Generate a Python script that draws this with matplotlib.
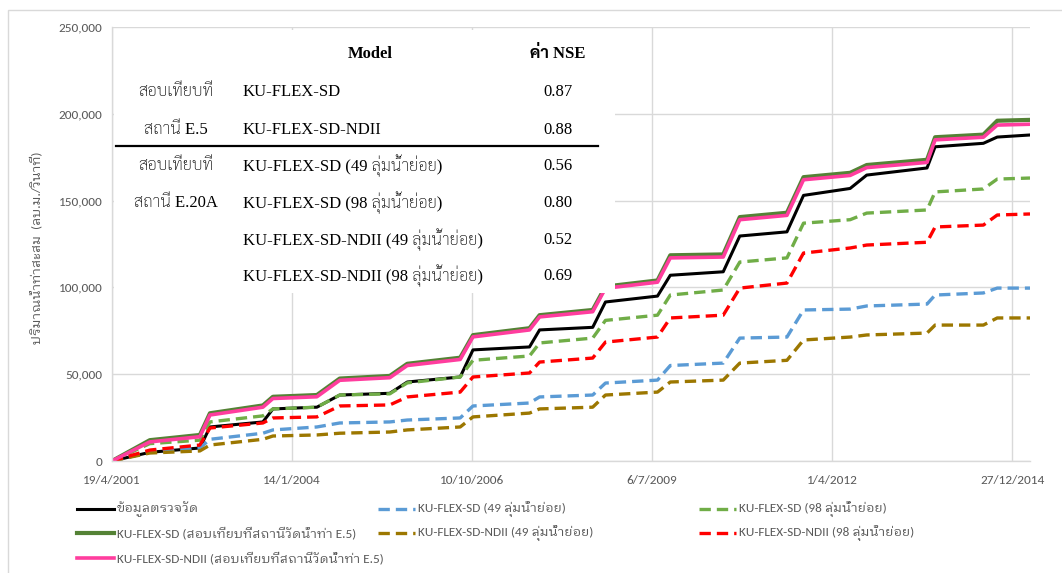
import matplotlib
matplotlib.use("Agg")
import matplotlib.pyplot as plt
from matplotlib import font_manager
from matplotlib.lines import Line2D
from matplotlib.patches import Rectangle
import pandas as pd

# ---------------------------------------------------------------- data
dates = [
    "2001-04-19", "2001-11-15", "2002-08-20", "2002-10-15", "2003-08-05",
    "2003-09-30", "2004-05-31", "2004-10-05", "2005-07-10", "2005-10-15",
    "2006-08-05", "2006-10-15", "2007-08-25", "2007-10-20", "2008-08-10",
    "2008-10-20", "2009-08-05", "2009-10-15", "2010-08-05", "2010-11-05",
    "2011-07-25", "2011-10-25", "2012-07-10", "2012-10-10", "2013-09-10",
    "2013-10-25", "2014-07-20", "2014-10-05", "2015-04-05",
]

observed = [0, 5000, 7500, 19600, 22500, 30000, 31000, 38000, 39000, 45500,
            48400, 64000, 65700, 75500, 77000, 91600, 95000, 107000, 109000,
            129600, 132000, 153000, 157000, 164700, 168800, 181000, 183000,
            186600, 187800]
sd_49 = [0, 5200, 7500, 12500, 16000, 17900, 19600, 21900, 22500, 23600,
         24800, 31700, 33400, 36900, 38000, 44900, 46600, 55000, 56400, 70800,
         71400, 87000, 87500, 89300, 90400, 95600, 96800, 99600, 99600]
sd_98 = [0, 10000, 12000, 22500, 26000, 30000, 31000, 38000, 38700, 45000,
         48400, 58000, 60500, 68000, 70800, 81000, 84000, 95600, 98500, 114600,
         117000, 137000, 139000, 142800, 144600, 155000, 156700, 162400, 163000]
sd_e5 = [0, 12000, 15000, 27500, 32000, 37000, 38000, 47500, 49000, 56000,
         59500, 72500, 76500, 84000, 87000, 100500, 104000, 118500, 119000,
         140500, 143000, 163500, 166000, 170500, 173500, 186500, 188000,
         196000, 196500]
ndii_49 = [0, 4600, 5800, 9200, 12500, 14400, 15000, 16000, 16700, 17900,
           19600, 25400, 27600, 30000, 31000, 38000, 39700, 45500, 46600,
           56400, 58000, 69700, 71400, 72600, 73700, 78300, 78300, 82400, 82400]
ndii_98 = [0, 6300, 9200, 19000, 21900, 24800, 25400, 31700, 32300, 36900,
           39700, 48400, 50700, 57000, 59300, 68500, 71400, 82400, 84000,
           99600, 102500, 119800, 122700, 124400, 126000, 134800, 135900,
           141700, 142300]
ndii_e5 = [0, 11000, 14000, 26500, 31000, 36000, 37000, 46500, 48000, 55000,
           58500, 71500, 75500, 83000, 86000, 99500, 103000, 117000, 117500,
           139000, 141500, 162000, 164500, 169000, 172000, 185000, 186500,
           193500, 194000]

series_labels = [
    "ข้อมูลตรวจวัด",
    "KU-FLEX-SD (49 ลุ่มน้ำย่อย)",
    "KU-FLEX-SD (98 ลุ่มน้ำย่อย)",
    "KU-FLEX-SD (สอบเทียบที่สถานีวัดน้ำท่า E.5)",
    "KU-FLEX-SD-NDII (49 ลุ่มน้ำย่อย)",
    "KU-FLEX-SD-NDII (98 ลุ่มน้ำย่อย)",
    "KU-FLEX-SD-NDII (สอบเทียบที่สถานีวัดน้ำท่า E.5)",
]

x_tick_dates = ["2001-04-19", "2004-01-14", "2006-10-10", "2009-07-06",
                "2012-04-01", "2014-12-27"]
x_tick_labels = ["19/4/2001", "14/1/2004", "10/10/2006", "6/7/2009",
                 "1/4/2012", "27/12/2014"]
y_ticks = [0, 50000, 100000, 150000, 200000, 250000]

table_groups = ["สอบเทียบที่\nสถานี E.5", "สอบเทียบที่\nสถานี E.20A"]
table_models = [
    "KU-FLEX-SD",
    "KU-FLEX-SD-NDII",
    "KU-FLEX-SD (49 ลุ่มน้ำย่อย)",
    "KU-FLEX-SD (98 ลุ่มน้ำย่อย)",
    "KU-FLEX-SD-NDII (49 ลุ่มน้ำย่อย)",
    "KU-FLEX-SD-NDII (98 ลุ่มน้ำย่อย)",
]
table_nse = [0.87, 0.88, 0.56, 0.80, 0.52, 0.69]

# ---------------------------------------------------------------- fonts
installed = {f.name for f in font_manager.fontManager.ttflist}


def pick(cands):
    return [c for c in cands if c in installed]


sans_fonts = (pick(["Carlito", "Lato", "Open Sans"])[:1]
              + pick(["IBM Plex Sans Thai Looped", "Noto Sans Thai Looped",
                      "Sarabun", "FreeSans"])[:1] + ["DejaVu Sans"])
serif_fonts = (pick(["Liberation Serif", "FreeSerif"])[:1]
               + pick(["Sarabun", "FreeSerif"])[:1] + ["DejaVu Serif"])
plt.rcParams["font.family"] = sans_fonts

GREY = "#595959"
GRID = "#d9d9d9"

# ---------------------------------------------------------------- figure
W, H = 1062, 573
fig = plt.figure(figsize=(W / 100, H / 100), dpi=100)


def fx(px):
    return px / W


def fy(py):
    return 1 - py / H


ax = fig.add_axes([fx(112), fy(461), fx(1030) - fx(112), fy(27) - fy(461)])

t = pd.to_datetime(dates)
dash = (0, (3.4, 1.8))
styles = [
    dict(color="black", lw=2.2, ls="-"),
    dict(color="#5B9BD5", lw=2.4, ls=dash),
    dict(color="#70AD47", lw=2.4, ls=dash),
    dict(color="#548235", lw=3.0, ls="-"),
    dict(color="#9C7700", lw=2.4, ls=dash),
    dict(color="#FF0000", lw=2.4, ls=dash),
    dict(color="#FF3D9E", lw=2.6, ls="-"),
]
all_series = [observed, sd_49, sd_98, sd_e5, ndii_49, ndii_98, ndii_e5]
for vals, st in zip(all_series, styles):
    ax.plot(t, vals, solid_joinstyle="round", dash_capstyle="butt", **st)

ax.set_xlim(t[0], t[-1])
ax.set_ylim(0, 250000)
ax.set_yticks(y_ticks)
ax.set_yticklabels([f"{v:,}" for v in y_ticks])
ax.set_xticks(pd.to_datetime(x_tick_dates))
ax.set_xticklabels(x_tick_labels)
ax.tick_params(length=0, colors=GREY, labelsize=9.5, pad=7)
ax.tick_params(axis="x", pad=10)
ax.grid(True, color=GRID, lw=1.0)
ax.set_axisbelow(True)
for side in ("top", "right"):
    ax.spines[side].set_visible(False)
for side in ("left", "bottom"):
    ax.spines[side].set_color(GRID)
    ax.spines[side].set_linewidth(1.0)

fig.text(fx(36), fy(248), "ปริมาณน้ำท่าสะสม  (ลบ.ม./วินาที)", rotation=90,
         ha="center", va="center", color=GREY, fontsize=9.5)

# chart frame
fig.add_artist(Rectangle((fx(8), fy(600)), fx(1100), fy(10) - fy(600),
                         transform=fig.transFigure, fill=False,
                         edgecolor=GRID, lw=1.0, zorder=0))

# ---------------------------------------------------------------- table
fig.add_artist(Rectangle((fx(114), fy(293)), fx(615) - fx(114),
                         fy(30) - fy(293), transform=fig.transFigure,
                         facecolor="white", edgecolor="none", zorder=2))
tkw = dict(family=serif_fonts, fontsize=12, color="black", zorder=3,
           va="center")
fig.text(fx(370), fy(54), "Model", ha="center", weight="bold", **tkw)
fig.text(fx(558), fy(54), "ค่า NSE", ha="center", weight="bold", **tkw)
row_y = [92, 130, 166, 203, 240, 276]
group_rows = [(0, 1), (2, 3)]
for label, (r0, r1) in zip(table_groups, group_rows):
    top, bottom = label.split("\n")
    fig.text(fx(176), fy(row_y[r0]), top, ha="center", weight="light", **tkw)
    fig.text(fx(176), fy(row_y[r1]), bottom, ha="center", weight="light",
             **tkw)
for y, m, v in zip(row_y, table_models, table_nse):
    fig.text(fx(243), fy(y), m, ha="left", weight="light", **tkw)
    fig.text(fx(558), fy(y), f"{v:.2f}", ha="center", **tkw)
fig.add_artist(Line2D([fx(116), fx(598)], [fy(146), fy(146)],
                      transform=fig.transFigure, color="black", lw=1.6,
                      zorder=3))

# ---------------------------------------------------------------- legend
cols = [77, 378, 699]
rows = [509, 533, 558]
slots = [(0, 0), (0, 1), (0, 2), (1, 0), (1, 1), (1, 2), (2, 0)]
for (r, c), lab, st in zip(slots, series_labels, styles):
    x0 = cols[c]
    fig.add_artist(Line2D([fx(x0), fx(x0 + 37)], [fy(rows[r]), fy(rows[r])],
                          transform=fig.transFigure, color=st["color"],
                          lw=st["lw"], ls=st["ls"]))
    fig.text(fx(x0 + 40), fy(rows[r]), lab, ha="left", va="center",
             color=GREY, fontsize=9.5)

fig.savefig("out.png", dpi=100, facecolor="white")
